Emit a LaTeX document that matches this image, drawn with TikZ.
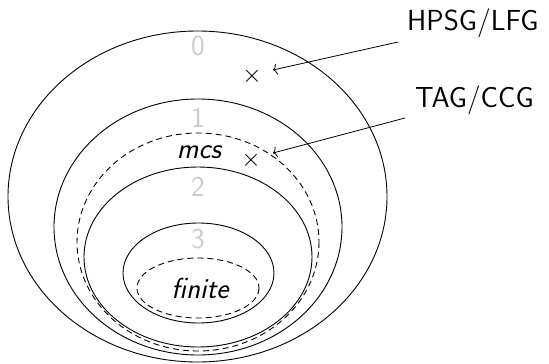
\documentclass[tikz,border=0pt]{standalone}
\usetikzlibrary{arrows.meta}
\begin{document}
\begin{tikzpicture}[x=1pt,y=-1pt,
  every node/.style={inner sep=0pt,font=\fontsize{29}{34}\selectfont\sffamily},
  shell/.style={line width=0.9pt},
  dshell/.style={line width=0.9pt,dash pattern=on 6pt off 4pt},
  lvl/.style={text=black!20},
  lang/.style={font=\fontsize{29}{34}\selectfont\sffamily\itshape},
  crossmark/.style={font=\fontsize{34}{40}\selectfont},
  pointer/.style={line width=0.8pt,-{To[length=4pt,width=11pt]}}]
\useasboundingbox (0,0) rectangle (549,364);
% nested classes
\draw[shell]  (197.5,196.5) ellipse [x radius=189.5, y radius=165.5];
\draw[shell]  (198,227) ellipse [x radius=144, y radius=128];
\draw[dshell] (198,242) ellipse [x radius=121, y radius=109];
\draw[shell]  (198,257) ellipse [x radius=114, y radius=90];
\draw[shell]  (198.5,273) ellipse [x radius=75.5, y radius=50];
\draw[dshell] (198,288) ellipse [x radius=61, y radius=30];
% level numbers
\node[lvl,anchor=base] (l0) at (198,55) {0};
\node[lvl,anchor=base] (l1) at (198,127) {1};
\node[lvl,anchor=base] (l2) at (198,196) {2};
\node[lvl,anchor=base] (l3) at (198,248) {3};
% class names
\node[lang,anchor=base] (mcs) at (199,158) {mcs};
\node[lang,anchor=base] (fin) at (200,298) {finite};
% formalisms
\node[crossmark] (x1) at (252,76) {$\times$};
\node[crossmark] (x2) at (251,160) {$\times$};
\node[anchor=base west] (hpsg) at (407,30) {HPSG/LFG};
\node[anchor=base west] (tag) at (415,107) {TAG/CCG};
\coordinate (h0) at (398,42);
\coordinate (h1) at (273,70);
\coordinate (t0) at (405,118);
\coordinate (t1) at (273,153);
\draw[pointer] (h0) -- (h1);
\draw[pointer] (t0) -- (t1);
\end{tikzpicture}
\end{document}
